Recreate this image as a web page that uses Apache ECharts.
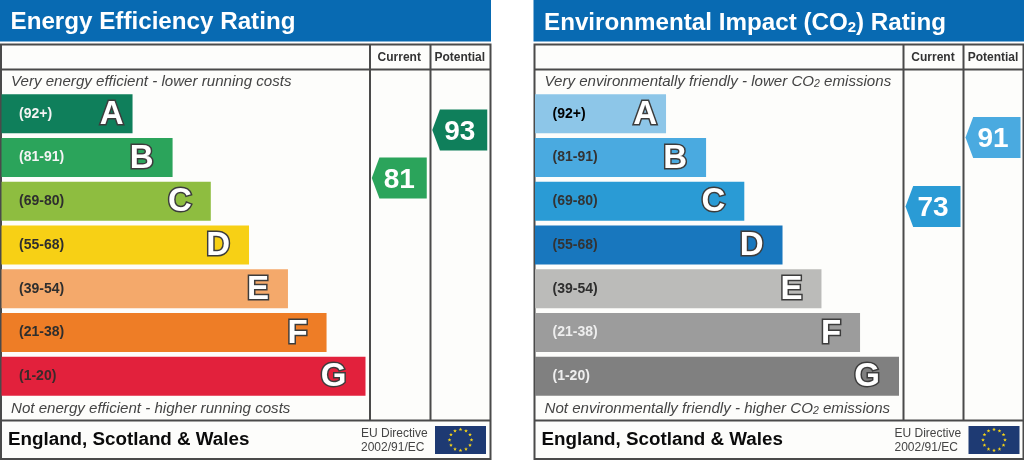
<!DOCTYPE html>
<html><head><meta charset="utf-8">
<style>html,body{margin:0;padding:0;background:#fff}#c{width:1024px;height:460px}</style>
<script src="https://cdn.jsdelivr.net/npm/echarts@6/dist/echarts.min.js"></script>
</head><body><div id="c"></div>
<script>
const letters = ['A','B','C','D','E','F','G'];
const ranges = ['(92+)','(81-91)','(69-80)','(55-68)','(39-54)','(21-38)','(1-20)'];
const lowerBounds = [92,81,69,55,39,21,1];
const barLengths = [36,47,57.5,68,78.7,89.3,100];
const columns = ['Current','Potential'];
const energyColors = ['#0F7F5B','#2BA45B','#8EBD40','#F7D015','#F4A96B','#EE7D26','#E2213C'];
const co2Colors = ['#8DC6E8','#4AAAE0','#2A9BD5','#1877BE','#BBBBB9','#9C9C9C','#808080'];
const energyRangeText = ['#f4f4f4','#f4f4f4','#2e2e2e','#2e2e2e','#2e2e2e','#2e2e2e','#3a2a2a'];
const co2RangeText = ['#000','#333','#333','#333','#2e2e2e','#eee','#eee'];
const energyRatings = [81,93];
const co2Ratings = [73,91];
const FONT = 'Liberation Sans';
const BAND = '#086AB2', LINE = '#4a4a4a', PANEL = '#FDFDFB';

const panels = [
 {x0:0, barLeft:1.5, colLeft:369, colW:121, frameL:1, frameR:490.5, v1:370, v2:430.5, flag:435,
  title:'Energy Efficiency Rating', titleRich:null,
  top:'Very energy efficient - lower running costs', bottom:'Not energy efficient - higher running costs',
  colors:energyColors, textColors:energyRangeText, ratings:energyRatings, yMin:20.5, yMax:108},
 {x0:534, barLeft:535, colLeft:903, colW:120, frameL:534.5, frameR:1023.5, v1:903.5, v2:963.5, flag:968.5,
  title:'{t|Environmental Impact (CO}{s|2}{t|) Rating}', titleRich:true,
  top:'Very environmentally friendly - lower CO{s|2} emissions', bottom:'Not environmentally friendly - higher CO{s|2} emissions',
  colors:co2Colors, textColors:co2RangeText, ratings:co2Ratings, yMin:17.3, yMax:108.6}
];

function bandIndex(v){ return lowerBounds.findIndex(b => v >= b); }
function star(cx,cy,r){
  const pts=[];
  for(let i=0;i<10;i++){const a=-Math.PI/2+i*Math.PI/5, q=i%2?r*0.42:r;pts.push([cx+q*Math.cos(a),cy+q*Math.sin(a)]);}
  return {type:'polygon',shape:{points:pts},style:{fill:'#F6D417'}};
}
const POINTER='path://M14 0H100V100H14L0 50Z';

const grid=[],xAxis=[],yAxis=[],series=[],title=[],graphic=[];
panels.forEach((p,i)=>{
  const bx = i?533.5:0, bw = i?490.5:491;
  graphic.push({type:'rect',shape:{x:bx,y:0,width:bw,height:41.5},style:{fill:BAND}});
  graphic.push({type:'rect',shape:{x:p.frameL,y:44.5,width:p.frameR-p.frameL,height:414.5},style:{fill:PANEL,stroke:LINE,lineWidth:2}});
  [[p.v1,44.5,p.v1,420.5],[p.v2,44.5,p.v2,420.5],[p.frameL,69.5,p.frameR,69.5],[p.frameL,420.5,p.frameR,420.5]].forEach(l=>
    graphic.push({type:'line',shape:{x1:l[0],y1:l[1],x2:l[2],y2:l[3]},style:{stroke:LINE,lineWidth:2}}));
  const subRich={s:{fontFamily:FONT,fontStyle:'italic',fontSize:10.5,fill:'#444',padding:[5,0,0,0]}};
  const ital={x:p.frameL+10,fill:'#444',fontFamily:FONT,fontStyle:'italic',fontSize:15.1,verticalAlign:'middle',rich:subRich};
  graphic.push({type:'text',style:Object.assign({text:p.top,y:82},ital)});
  graphic.push({type:'text',style:Object.assign({text:p.bottom,y:409},ital)});
  graphic.push({type:'text',style:{text:'England, Scotland & Wales',x:p.frameL+7,y:440,fill:'#0b0b0b',fontFamily:FONT,fontWeight:'bold',fontSize:18.8,verticalAlign:'middle'}});
  graphic.push({type:'text',style:{text:'EU Directive',x:p.flag-74,y:433.5,fill:'#444',fontFamily:FONT,fontSize:12,verticalAlign:'middle'}});
  graphic.push({type:'text',style:{text:'2002/91/EC',x:p.flag-74,y:447.5,fill:'#444',fontFamily:FONT,fontSize:12,verticalAlign:'middle'}});
  graphic.push({type:'rect',shape:{x:p.flag,y:426,width:51,height:28},style:{fill:'#1E3A73'}});
  for(let k=0;k<12;k++){
    const a=k*Math.PI/6;
    graphic.push(star(p.flag+25.5+11*Math.sin(a),440-10.5*Math.cos(a),2));
  }
  title.push({text:p.title,left:bx+10.5,top:i?11:10,padding:0,textStyle:{color:'#fff',fontFamily:FONT,fontWeight:'bold',fontSize:24.2,
    rich:p.titleRich?{t:{color:'#fff',fontFamily:FONT,fontWeight:'bold',fontSize:24.2},s:{color:'#fff',fontFamily:FONT,fontWeight:'bold',fontSize:15,padding:[9,0,0,0]}}:undefined}});

  const g=i*2;
  grid.push({left:p.barLeft,top:92,width:364,height:306,containLabel:false});
  grid.push({left:p.colLeft,top:70,width:p.colW,height:350,containLabel:false});
  xAxis.push({gridIndex:g,type:'value',min:0,max:100,show:false});
  xAxis.push({gridIndex:g+1,type:'category',position:'top',data:columns,
    axisLine:{show:false},axisTick:{show:false},
    axisLabel:{interval:0,hideOverlap:false,fontFamily:FONT,fontWeight:'bold',fontSize:12,color:'#333',margin:6}});
  yAxis.push({gridIndex:g,type:'category',inverse:true,data:ranges,z:6,
    axisLine:{show:false},axisTick:{show:false},splitLine:{show:false},
    axisLabel:{inside:true,margin:17.5,interval:0,fontFamily:FONT,fontSize:14,fontWeight:'bold',
      color:(v,idx)=>p.textColors[idx]}});
  yAxis.push({gridIndex:g+1,type:'value',min:p.yMin,max:p.yMax,show:false,splitLine:{show:false}});
  series.push({type:'bar',xAxisIndex:g,yAxisIndex:g,barWidth:39,silent:true,
    data:barLengths.map((v,k)=>({value:v,itemStyle:{color:p.colors[k]},
      label:{show:true,position:'insideRight',distance:k===0?9:19,offset:[0,1],formatter:letters[k],fontFamily:FONT,fontWeight:'bold',fontSize:33,
        color:'#fff',textBorderColor:'#3c3c3c',textBorderWidth:3}}))});
  series.push({type:'scatter',xAxisIndex:g+1,yAxisIndex:g+1,symbol:POINTER,symbolSize:[55,41],silent:true,
    data:p.ratings.map((v,k)=>({value:[columns[k],v],itemStyle:{color:p.colors[bandIndex(v)],opacity:1},
      label:{show:true,position:'inside',offset:[0,2],formatter:String(v),fontFamily:FONT,fontWeight:'bold',fontSize:28,color:'#fff'}}))});
});

const chart=echarts.init(document.getElementById('c'),null,{renderer:'canvas'});
chart.setOption({animation:false,backgroundColor:'#fff',title,grid,xAxis,yAxis,series,graphic:{elements:graphic}});
</script></body></html>
